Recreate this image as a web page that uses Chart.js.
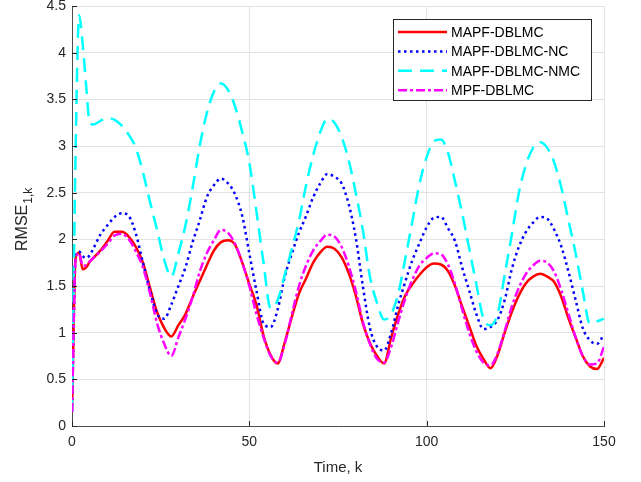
<!DOCTYPE html>
<html lang="en">
<head>
    <meta charset="UTF-8">
    <title>RMSE</title>
    <script src="https://cdn.jsdelivr.net/npm/chart.js"></script>
    <style>
        body {
            margin: 0;
            padding: 0;
            background-color: #ffffff;
        }
        #chart {
            display: block;
        }
    </style>
</head>
<body>
    <canvas id="chart" width="641" height="482"></canvas>

    <script>
        // data
        const kSteps = [0, 1, 2, 3, 4, 5,
            6, 8, 10, 12, 14, 16, 18, 20, 22, 24, 26, 28,
            30, 32, 34, 36, 38, 40, 42, 44, 46, 48, 50, 52, 54, 56, 58,
            60, 62, 64, 66, 68, 70, 72, 74, 76, 78, 80, 82, 84, 86, 88,
            90, 92, 94, 96, 98, 100, 102, 104, 106, 108, 110, 112, 114, 116, 118,
            120, 122, 124, 126, 128, 130, 132, 134, 136, 138, 140, 142, 144, 146, 148, 150];

        const mapf = [0.15, 1.8, 1.86, 1.68, 1.7, 1.76,
            1.8, 1.88, 1.98, 2.08, 2.08, 2.03, 1.92, 1.75, 1.48, 1.22, 1.05, 0.96,
            1.08, 1.2, 1.38, 1.55, 1.72, 1.88, 1.97, 1.99, 1.94, 1.75, 1.52, 1.3, 0.97, 0.76, 0.67,
            0.9, 1.17, 1.42, 1.58, 1.75, 1.86, 1.92, 1.9, 1.81, 1.64, 1.4, 1.1, 0.89, 0.75, 0.67,
            0.95, 1.2, 1.4, 1.52, 1.62, 1.7, 1.74, 1.73, 1.66, 1.5, 1.28, 1.07, 0.86, 0.72, 0.62,
            0.76, 1.0, 1.22, 1.4, 1.53, 1.6, 1.63, 1.6, 1.54, 1.38, 1.15, 0.95, 0.75, 0.64, 0.61, 0.73];

        const mapfNC = [0.15, 1.8, 1.87, 1.82, 1.8, 1.83,
            1.9, 2.05, 2.15, 2.24, 2.28, 2.25, 2.06, 1.75, 1.45, 1.2, 1.15, 1.3,
            1.5, 1.7, 1.97, 2.2, 2.45, 2.58, 2.65, 2.6, 2.48, 2.25, 1.85, 1.45, 1.1, 1.06, 1.25,
            1.6, 1.85, 2.07, 2.25, 2.45, 2.6, 2.7, 2.67, 2.6, 2.38, 2.02, 1.5, 1.05, 0.85, 0.81,
            1.0, 1.3, 1.55, 1.78, 1.96, 2.13, 2.23, 2.24, 2.12, 1.98, 1.7, 1.45, 1.2, 1.04, 1.06,
            1.14, 1.35, 1.68, 1.92, 2.08, 2.18, 2.24, 2.22, 2.1, 1.92, 1.65, 1.35, 1.05, 0.92, 0.88, 0.98];

        const mapfNMC = [0.15, 2.9, 4.4, 4.1, 3.64, 3.25,
            3.23, 3.27, 3.3, 3.28, 3.22, 3.12, 2.98, 2.72, 2.4, 2.1, 1.78, 1.6,
            1.85, 2.15, 2.55, 3.0, 3.35, 3.58, 3.67, 3.6, 3.42, 3.15, 2.82, 2.3, 1.75, 1.26, 1.35,
            1.62, 1.9, 2.2, 2.58, 2.9, 3.15, 3.29, 3.25, 3.1, 2.85, 2.5, 2.1, 1.6, 1.32, 1.14,
            1.2, 1.42, 1.8, 2.2, 2.6, 2.88, 3.05, 3.07, 2.93, 2.62, 2.28, 1.9, 1.52, 1.15, 1.08,
            1.2, 1.62, 2.05, 2.5, 2.8, 2.98, 3.04, 2.98, 2.82, 2.55, 2.2, 1.85, 1.45, 1.1, 1.12, 1.15];

        const mpf = [0.15, 1.78, 1.85, 1.72, 1.72, 1.76,
            1.8, 1.87, 1.95, 2.04, 2.06, 2.0, 1.87, 1.7, 1.42, 1.1, 0.88, 0.75,
            0.95, 1.15, 1.38, 1.65, 1.85, 1.99, 2.1, 2.07, 1.95, 1.75, 1.5, 1.2, 0.95, 0.75, 0.68,
            0.88, 1.2, 1.5, 1.72, 1.88, 1.98, 2.05, 2.03, 1.92, 1.72, 1.45, 1.12, 0.88, 0.72, 0.68,
            0.85, 1.12, 1.37, 1.57, 1.72, 1.8, 1.85, 1.84, 1.73, 1.52, 1.25, 1.0, 0.8, 0.68, 0.65,
            0.78, 1.02, 1.28, 1.48, 1.63, 1.72, 1.77, 1.75, 1.65, 1.45, 1.2, 0.95, 0.75, 0.66, 0.67, 0.85];

        const seriesNames = ['MAPF-DBLMC', 'MAPF-DBLMC-NC', 'MAPF-DBLMC-NMC', 'MPF-DBLMC'];

        const toPoints = arr => arr.map((v, i) => ({ x: kSteps[i], y: v }));

        const styles = [
            { color: '#ff0000', dash: [] },
            { color: '#0000ff', dash: [2.5, 3.5] },
            { color: '#00ffff', dash: [14, 8] },
            { color: '#ff00ff', dash: [9, 3, 3, 3] }
        ];

        Chart.defaults.font.family = '"Liberation Sans", Arial, sans-serif';
        Chart.defaults.color = '#262626';

        // inward tick marks, y label with subscript, boxed legend
        const matlabLook = {
            id: 'matlabLook',
            afterDraw(chart) {
                const ctx = chart.ctx;
                const xs = chart.scales.x;
                const ys = chart.scales.y;
                const area = chart.chartArea;
                ctx.save();
                ctx.strokeStyle = '#262626';
                ctx.lineWidth = 1;
                ctx.beginPath();
                ys.ticks.forEach(t => {
                    const py = Math.round(ys.getPixelForValue(t.value)) + 0.5;
                    ctx.moveTo(area.left, py);
                    ctx.lineTo(area.left + 5, py);
                });
                xs.ticks.forEach(t => {
                    const px = Math.round(xs.getPixelForValue(t.value)) + 0.5;
                    ctx.moveTo(px, area.bottom);
                    ctx.lineTo(px, area.bottom - 5);
                });
                ctx.stroke();

                // y axis title: RMSE_{1,k}
                ctx.fillStyle = '#262626';
                ctx.translate(27, 251);
                ctx.rotate(-Math.PI / 2);
                ctx.textBaseline = 'alphabetic';
                ctx.textAlign = 'left';
                ctx.font = '16px "Liberation Sans", Arial, sans-serif';
                ctx.fillText('RMSE', 0, 0);
                const w = ctx.measureText('RMSE').width;
                ctx.font = '12px "Liberation Sans", Arial, sans-serif';
                ctx.fillText('1,k', w + 1, 5);
                ctx.restore();

                // legend
                ctx.save();
                const bx = 393.5, by = 19.5, bw = 198, bh = 81;
                ctx.fillStyle = '#ffffff';
                ctx.fillRect(bx, by, bw, bh);
                ctx.strokeStyle = '#262626';
                ctx.lineWidth = 1;
                ctx.strokeRect(bx, by, bw, bh);
                ctx.font = '14px "Liberation Sans", Arial, sans-serif';
                ctx.textBaseline = 'middle';
                ctx.fillStyle = '#000000';
                seriesNames.forEach((name, i) => {
                    const yy = 32 + i * 19.4;
                    ctx.strokeStyle = styles[i].color;
                    ctx.lineWidth = 2.5;
                    ctx.setLineDash(styles[i].dash);
                    ctx.beginPath();
                    ctx.moveTo(398, yy);
                    ctx.lineTo(447, yy);
                    ctx.stroke();
                    ctx.setLineDash([]);
                    ctx.fillText(name, 451, yy + 1);
                });
                ctx.restore();
            }
        };

        const ctx = document.getElementById('chart').getContext('2d');
        new Chart(ctx, {
            type: 'line',
            data: {
                datasets: [mapf, mapfNC, mapfNMC, mpf].map((arr, i) => ({
                    label: seriesNames[i],
                    data: toPoints(arr),
                    borderColor: styles[i].color,
                    borderDash: styles[i].dash,
                    borderWidth: 2.5,
                    pointRadius: 0,
                    cubicInterpolationMode: 'monotone',
                    fill: false,
                    order: 4 - i
                }))
            },
            options: {
                responsive: false,
                animation: false,
                devicePixelRatio: 1,
                layout: {
                    padding: { top: 6, right: 37, left: 0, bottom: 0 }
                },
                plugins: {
                    legend: { display: false },
                    tooltip: { enabled: false }
                },
                scales: {
                    x: {
                        type: 'linear',
                        min: 0,
                        max: 150,
                        ticks: {
                            stepSize: 50,
                            font: { size: 14, lineHeight: 0.85 },
                            color: '#262626',
                            padding: 10
                        },
                        grid: {
                            color: '#e3e3e3',
                            drawTicks: false
                        },
                        border: { color: '#4d4d4d' },
                        title: {
                            display: true,
                            text: 'Time, k',
                            font: { size: 15 },
                            color: '#262626',
                            padding: { top: 4, bottom: 5 }
                        },
                        afterFit(scale) { scale.height = 56; }
                    },
                    y: {
                        type: 'linear',
                        min: 0,
                        max: 4.5,
                        ticks: {
                            stepSize: 0.5,
                            font: { size: 14, lineHeight: 0.85 },
                            color: '#262626',
                            padding: 6,
                            callback: v => String(Number(v.toFixed(1)))
                        },
                        grid: {
                            color: '#e3e3e3',
                            drawTicks: false
                        },
                        border: { color: '#4d4d4d' },
                        afterFit(scale) {
                            scale.width = 72;
                            scale.paddingTop = 0;
                            scale.paddingBottom = 0;
                        }
                    }
                }
            },
            plugins: [matlabLook]
        });
    </script>
</body>
</html>
